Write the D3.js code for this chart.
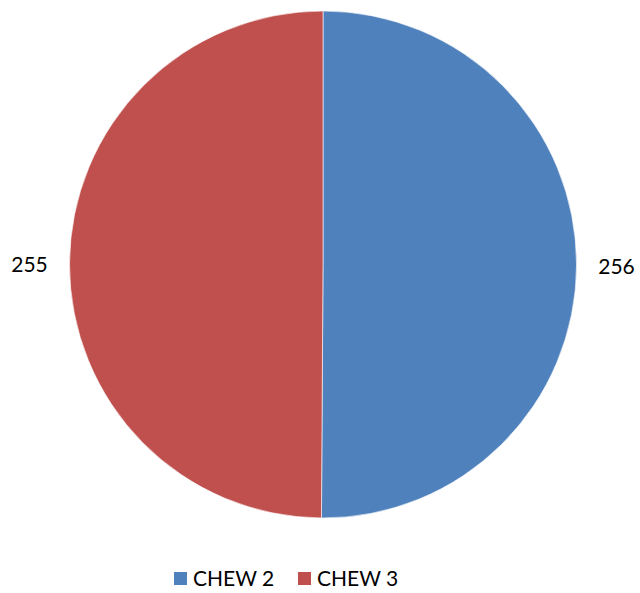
<!DOCTYPE html>
<html>
<head>
<meta charset="utf-8">
<script src="https://cdn.jsdelivr.net/npm/d3@7"></script>
<style>
  html, body { margin: 0; padding: 0; background: #fff; }
  svg { display: block; }
</style>
</head>
<body>
<svg id="chart" width="640" height="593"></svg>
<script>
const categories = ["CHEW 2", "CHEW 3"];
const values = [256, 255];
const colors = ["#4F81BD", "#C0504D"];

const svg = d3.select("#chart");
const font = "Lato, 'Open Sans', sans-serif";
const cx = 323, cy = 264.5, r = 253.5;

const pie = d3.pie().sort(null).value(d => d.value);
const arcs = pie(categories.map((c, i) => ({ name: c, value: values[i] })));
const arc = d3.arc().innerRadius(0).outerRadius(r);

const g = svg.append("g").attr("transform", `translate(${cx},${cy})`);
g.selectAll("path.slice")
  .data(arcs)
  .join("path")
  .attr("class", "slice")
  .attr("d", arc)
  .attr("fill", (d, i) => colors[i])
  .attr("stroke", "rgba(255,255,255,0.6)")
  .attr("stroke-width", 1);

// value labels outside the pie, beside each slice
const labelArc = d3.arc().innerRadius(r + 40).outerRadius(r + 40);
g.selectAll("text.val")
  .data(arcs)
  .join("text")
  .attr("class", "val")
  .attr("x", d => {
    const mid = (d.startAngle + d.endAngle) / 2;
    return Math.sin(mid) * (r + 40);
  })
  .attr("y", d => {
    const mid = (d.startAngle + d.endAngle) / 2;
    return -Math.cos(mid) * (r + 40);
  })
  .attr("text-anchor", "middle")
  .attr("dominant-baseline", "central")
  .style("font-family", font)
  .style("font-size", "21px")
  .attr("fill", "#000")
  .text(d => d.data.value);

// legend
const legend = svg.append("g").attr("transform", "translate(174,572)");
const items = legend.selectAll("g.item")
  .data(categories)
  .join("g")
  .attr("class", "item")
  .attr("transform", (d, i) => `translate(${i * 124},0)`);
items.append("rect")
  .attr("width", 13).attr("height", 13)
  .attr("fill", (d, i) => colors[i]);
items.append("text")
  .attr("x", 19).attr("y", 14)
  .style("font-family", font)
  .style("font-size", "21px")
  .attr("fill", "#000")
  .text(d => d);
</script>
</body>
</html>
